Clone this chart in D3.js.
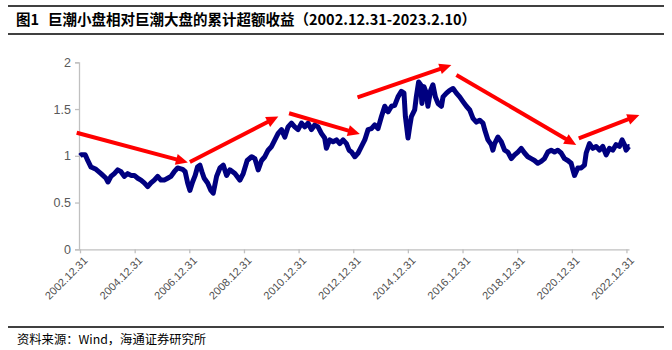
<!DOCTYPE html>
<html>
<head>
<meta charset="utf-8">
<script src="https://cdn.jsdelivr.net/npm/d3@7"></script>
<style>
  html, body { margin: 0; padding: 0; background: #fff; }
  svg { display: block; }
</style>
</head>
<body>
<svg id="chart" width="672" height="350"></svg>
<script>
// Cumulative excess return: CNI small cap vs CNI large cap
const dates = [
  "2002-12-31","2003-01-14","2003-03-12","2003-04-13","2003-05-27","2003-08-02","2003-10-08","2003-12-14",
  "2004-01-09","2004-02-18","2004-04-03","2004-05-18","2004-07-01","2004-08-14","2004-09-28","2004-11-12","2004-12-26",
  "2005-02-10","2005-03-25","2005-05-08","2005-06-23","2005-08-06","2005-09-19","2005-11-03","2005-12-17",
  "2006-01-30","2006-03-17","2006-04-30","2006-06-13","2006-07-28","2006-10-03","2006-11-06","2006-12-09",
  "2007-01-08","2007-02-13","2007-03-20","2007-04-20","2007-05-22","2007-06-18","2007-07-18","2007-09-02","2007-10-16","2007-11-16","2007-12-31",
  "2008-02-14","2008-03-29","2008-05-13","2008-06-26","2008-09-01","2008-11-07","2008-12-21",
  "2009-02-12","2009-04-12","2009-05-26","2009-07-09","2009-08-23","2009-10-06","2009-11-19",
  "2010-01-04","2010-02-17","2010-04-02","2010-05-17","2010-06-30","2010-08-13","2010-09-27","2010-11-10","2010-12-24",
  "2011-02-08","2011-03-24","2011-05-07","2011-06-21","2011-08-04","2011-09-17","2011-11-01","2011-12-15",
  "2012-01-07","2012-02-20","2012-04-05","2012-05-21","2012-07-04","2012-08-17","2012-10-01","2012-11-05","2012-12-08",
  "2013-01-21","2013-03-06","2013-04-20","2013-06-03","2013-07-17","2013-08-31","2013-10-14","2013-11-27",
  "2014-01-12","2014-02-25","2014-04-10","2014-05-26","2014-07-08","2014-08-21","2014-10-05","2014-11-09","2014-11-28",
  "2015-01-02","2015-01-24","2015-02-16","2015-04-01","2015-04-23","2015-05-24","2015-06-20","2015-07-07","2015-08-03","2015-09-04","2015-09-25","2015-10-31","2015-12-01",
  "2016-01-03","2016-02-07","2016-03-24","2016-04-14","2016-05-30","2016-07-12","2016-08-26","2016-10-10","2016-11-23",
  "2017-01-06","2017-02-21","2017-04-06","2017-05-20","2017-07-04","2017-08-17","2017-09-30","2017-10-23","2017-12-06",
  "2018-01-19","2018-02-10","2018-03-05","2018-04-17","2018-06-02","2018-07-16","2018-08-29","2018-10-14","2018-11-27",
  "2019-01-10","2019-02-24","2019-04-09","2019-05-23","2019-07-07","2019-08-20","2019-10-03","2019-11-17","2019-12-31",
  "2020-02-14","2020-03-30","2020-05-13","2020-06-26","2020-08-10","2020-09-24","2020-11-07","2020-12-22",
  "2021-01-14","2021-02-05","2021-03-21","2021-05-05","2021-06-18","2021-07-11","2021-08-24","2021-10-07","2021-11-21",
  "2022-01-05","2022-02-18","2022-04-04","2022-05-18","2022-07-01","2022-08-15","2022-09-28","2022-11-03","2022-12-04","2022-12-27",
  "2023-01-31","2023-02-10"
];
const excess = [
  1.00,1.01,1.01,0.95,0.88,0.855,0.81,0.76,
  0.72,0.78,0.81,0.85,0.83,0.78,0.81,0.79,0.79,
  0.76,0.74,0.71,0.67,0.71,0.74,0.78,0.74,
  0.74,0.76,0.78,0.83,0.87,0.855,0.83,0.71,
  0.63,0.72,0.79,0.88,0.90,0.83,0.76,0.71,0.63,0.60,0.78,
  0.87,0.90,0.79,0.85,0.81,0.74,0.81,
  0.95,0.99,0.97,0.85,0.95,0.99,1.06,
  1.10,1.17,1.24,1.28,1.20,1.31,1.35,1.31,1.28,
  1.35,1.31,1.35,1.28,1.33,1.31,1.24,1.19,
  1.08,1.17,1.15,1.17,1.13,1.17,1.13,1.06,1.04,
  0.99,1.03,1.10,1.17,1.28,1.29,1.33,1.29,
  1.42,1.53,1.47,1.53,1.54,1.63,1.69,1.67,1.42,
  1.19,1.31,1.42,1.49,1.63,1.79,1.76,1.56,1.74,1.67,1.53,1.70,1.76,
  1.63,1.56,1.53,1.63,1.67,1.70,1.72,1.67,1.63,
  1.58,1.53,1.49,1.40,1.36,1.38,1.35,1.28,1.17,
  1.12,1.06,1.13,1.20,1.15,1.06,1.04,0.97,1.01,
  1.04,1.08,1.03,0.99,0.97,0.95,0.92,0.94,0.97,
  1.04,1.06,1.04,1.06,1.03,0.97,0.95,0.92,
  0.85,0.79,0.87,0.87,0.90,1.03,1.13,1.08,1.10,
  1.06,1.10,1.01,1.08,1.06,1.12,1.10,1.17,1.12,1.06,
  1.10,1.10
];

// Trend arrows: [start date, start value, end date, end value]
const arrowStarts = [
  ["2002-11-17",1.247],["2007-01-08",0.934],["2010-08-26",1.455],
  ["2013-02-26",1.626],["2016-10-10",1.864],["2021-04-03",1.187]
];
const arrowEnds = [
  ["2006-12-12",0.928],["2010-04-04",1.420],["2013-03-29",1.233],
  ["2016-08-04",1.971],["2021-02-28",1.116],["2023-06-22",1.436]
];

const yTicks = [0, 0.5, 1, 1.5, 2];
const xTickDates = ["2002-12-31","2004-12-31","2006-12-31","2008-12-31","2010-12-31",
                    "2012-12-31","2014-12-31","2016-12-31","2018-12-31","2020-12-31","2022-12-31"];
const xTickLabels = ["2002.12.31","2004.12.31","2006.12.31","2008.12.31","2010.12.31",
                     "2012.12.31","2014.12.31","2016.12.31","2018.12.31","2020.12.31","2022.12.31"];

const titleText = "图1";
const titleMain = "巨潮小盘相对巨潮大盘的累计超额收益（2002.12.31-2023.2.10）";
const sourceText = "资料来源：Wind，海通证券研究所";

const parse = d3.timeParse("%Y-%m-%d");
const svg = d3.select("#chart");

const x = d3.scaleTime()
  .domain([parse("2002-12-31"), parse("2023-02-10")])
  .range([80, 629.5]);
const y = d3.scaleLinear().domain([0, 2]).range([249.3, 62.3]);

// Header and footer rules
const CJK = "'Noto Sans CJK SC', sans-serif";
svg.append("line").attr("x1", 8).attr("x2", 664).attr("y1", 6).attr("y2", 6)
  .attr("stroke", "#000").attr("stroke-width", 1.3);
svg.append("line").attr("x1", 8).attr("x2", 664).attr("y1", 34).attr("y2", 34)
  .attr("stroke", "#000").attr("stroke-width", 1.3);
svg.append("line").attr("x1", 8).attr("x2", 664).attr("y1", 327).attr("y2", 327)
  .attr("stroke", "#000").attr("stroke-width", 1.3);

svg.append("text").attr("x", 16).attr("y", 25)
  .attr("font-family", CJK).attr("font-weight", "bold").attr("font-size", 14.5)
  .text(titleText);
svg.append("text").attr("x", 48).attr("y", 25)
  .attr("font-family", CJK).attr("font-weight", "bold").attr("font-size", 14.5)
  .text(titleMain);
svg.append("text").attr("x", 17).attr("y", 343.5)
  .attr("font-family", CJK).attr("font-size", 12.3)
  .text(sourceText);

// Axes
const axisColor = "#c0c0c0";
const labelColor = "#595959";
const yAxis = svg.append("g").attr("transform", "translate(79,0)")
  .call(d3.axisLeft(y).tickValues(yTicks).tickSize(4).tickPadding(4).tickFormat(d3.format("~g")));
const xAxis = svg.append("g").attr("transform", "translate(0,249.3)")
  .call(d3.axisBottom(x).tickValues(xTickDates.map(parse)).tickSize(4)
    .tickFormat((d, i) => xTickLabels[i]));

[yAxis, xAxis].forEach(g => {
  g.select(".domain").attr("stroke", axisColor).attr("stroke-width", 1.3);
  g.selectAll(".tick line").attr("stroke", axisColor).attr("stroke-width", 1.3);
  g.selectAll("text").attr("fill", labelColor)
    .attr("font-family", "'Liberation Sans', Arial, sans-serif");
});
yAxis.selectAll("text").attr("font-size", 12.5);
xAxis.select(".domain").attr("d", `M79,0.5H629.5`);
xAxis.selectAll(".tick text")
  .attr("font-size", 11)
  .attr("fill", "#505050")
  .attr("text-anchor", "end")
  .attr("dy", null)
  .attr("transform", "translate(3,7) rotate(-45)");

// Series line
const series = dates.map((d, i) => ({ date: parse(d), value: excess[i] }));
svg.append("path").datum(series)
  .attr("fill", "none")
  .attr("stroke", "#000080")
  .attr("stroke-width", 5)
  .attr("stroke-linejoin", "round")
  .attr("d", d3.line().x(d => x(d.date)).y(d => y(d.value)));

// Trend arrows
const head = 12, halfW = 5.5;
const arrows = svg.append("g");
arrowStarts.forEach((s, i) => {
  const x1 = x(parse(s[0])), y1 = y(s[1]);
  const x2 = x(parse(arrowEnds[i][0])), y2 = y(arrowEnds[i][1]);
  const ang = Math.atan2(y2 - y1, x2 - x1);
  const bx = x2 - head * Math.cos(ang), by = y2 - head * Math.sin(ang);
  arrows.append("line")
    .attr("x1", x1).attr("y1", y1).attr("x2", bx + 1 * Math.cos(ang)).attr("y2", by + 1 * Math.sin(ang))
    .attr("stroke", "#ff0000").attr("stroke-width", 4);
  const px = -Math.sin(ang), py = Math.cos(ang);
  arrows.append("path")
    .attr("fill", "#ff0000")
    .attr("d", `M${x2},${y2}L${bx + halfW * px},${by + halfW * py}L${bx - halfW * px},${by - halfW * py}Z`);
});
</script>
</body>
</html>
